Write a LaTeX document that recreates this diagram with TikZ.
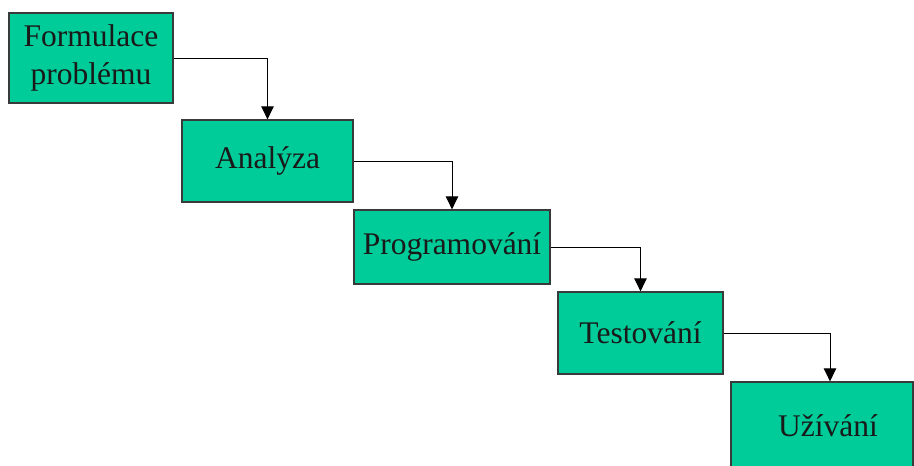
\documentclass[tikz,border=0pt]{standalone}
\usepackage{fontspec}
\setmainfont{Liberation Serif}
\usetikzlibrary{arrows.meta}
\definecolor{boxgreen}{RGB}{0,204,153}
\definecolor{boxedge}{RGB}{55,60,58}
\tikzset{
  stagebox/.style={draw=boxedge, line width=1.3pt, fill=boxgreen, inner sep=0pt,
    align=center, font=\fontsize{31.5}{38.5}\selectfont, text=black!90},
  flow/.style={draw=black, line width=0.9pt, -{Triangle[length=13pt,width=12.5pt]}}
}
\begin{document}
\begin{tikzpicture}[x=1pt,y=1pt]
\useasboundingbox (0,0) rectangle (914,-466);
\begin{scope}
\clip (0,0) rectangle (914,-466);
\node[stagebox, minimum width=164pt, minimum height=90pt] (a) at (91,-58) {Formulace\\problému};
\node[stagebox, minimum width=171pt, minimum height=82pt] (b) at (267.5,-161) {Analýza};
\node[stagebox, minimum width=196pt, minimum height=74pt] (c) at (452,-247) {Programování};
\node[stagebox, minimum width=165pt, minimum height=82pt] (d) at (640.5,-333) {Testování};
\node[stagebox, minimum width=182pt, minimum height=88pt] (e) at (822,-426) {\hspace*{12pt}Užívání};
\end{scope}
\draw[flow] (a.east) -| (b.north);
\draw[flow] (b.east) -| (c.north);
\draw[flow] (c.east) -| (d.north);
\draw[flow] (d.east) -| ([xshift=8pt]e.north);
\end{tikzpicture}
\end{document}
